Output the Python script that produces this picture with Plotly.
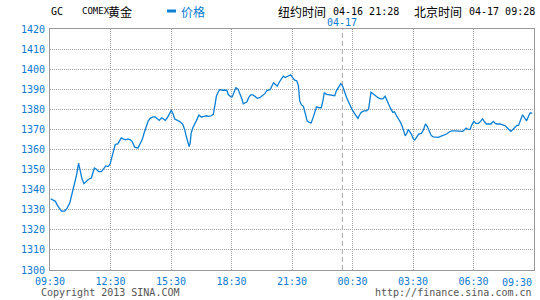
import plotly.graph_objects as go

# ---- data (minutes after 09:30 Beijing time, price) ----
minutes = [2, 12, 16, 22, 29, 34, 44, 51, 59, 65, 72, 79, 85, 90, 95, 101, 108, 115, 123, 127,
           132, 138, 145, 153, 160, 166, 173, 179, 182, 188, 194, 202, 208, 212, 219, 225, 232, 239, 245, 252,
           262, 269, 275, 280, 285, 292, 298, 306, 313, 319, 325, 332, 338, 343, 349, 356, 361, 366, 371, 379,
           387, 395, 401, 405, 411, 414, 417, 420, 425, 430, 436, 443, 450, 458, 465, 472, 480, 486, 490, 495,
           500, 505, 513, 520, 526, 530, 538, 542, 547, 553, 559, 565, 571, 575, 580, 586, 591, 597, 604, 611,
           617, 624, 631, 639, 646, 655, 660, 665, 670, 676, 682, 688, 694, 700, 706, 710, 716, 722, 728, 734,
           739, 743, 748, 754, 760, 765, 771, 777, 782, 787, 793, 800, 807, 812, 816, 823, 832, 842, 847, 852,
           858, 865, 870, 875, 881, 887, 893, 898, 904, 910, 916, 921, 926, 934, 942, 948, 952, 955, 961, 968,
           976, 983, 990, 997, 1002, 1008, 1014, 1020, 1025, 1031, 1037, 1043, 1048, 1053, 1057, 1062, 1066, 1075, 1081, 1085,
           1091, 1097, 1105, 1111, 1117, 1123, 1128, 1134, 1140, 1148, 1156, 1164, 1172, 1180, 1188, 1196, 1204, 1212, 1220, 1228,
           1234, 1238, 1244, 1250, 1255, 1261, 1267, 1275, 1281, 1287, 1293, 1299, 1305, 1312, 1319, 1325, 1331, 1339, 1347, 1355,
           1361, 1367, 1371, 1377, 1383, 1389, 1394, 1400, 1406, 1412, 1418, 1424, 1429, 1435]
price = [1335.5, 1334.8, 1334.2, 1332.2, 1330.3, 1329.3, 1329.3, 1330.8, 1333.5, 1337.2, 1341.8, 1347.2, 1353.2, 1349.8, 1345.5, 1343.0, 1344.2, 1345.2, 1345.8, 1348.2,
         1350.8, 1350.2, 1349.0, 1349.0, 1350.5, 1351.8, 1351.5, 1352.8, 1354.8, 1359.2, 1362.5, 1362.8, 1364.8, 1365.8, 1365.2, 1364.8, 1365.3, 1364.8, 1363.8, 1361.2,
         1360.8, 1362.8, 1365.2, 1368.2, 1371.2, 1374.2, 1375.5, 1376.2, 1376.2, 1375.2, 1374.5, 1375.8, 1375.2, 1374.5, 1375.8, 1377.8, 1379.5, 1377.8, 1375.2, 1374.5,
         1373.8, 1372.5, 1369.8, 1366.8, 1363.5, 1361.5, 1363.2, 1368.2, 1370.8, 1372.2, 1374.5, 1377.2, 1376.2, 1376.5, 1376.8, 1376.5, 1376.8, 1377.5, 1382.5, 1386.5,
         1388.5, 1389.8, 1389.5, 1389.5, 1389.5, 1387.5, 1386.2, 1386.2, 1388.2, 1390.8, 1390.2, 1387.8, 1385.2, 1382.8, 1383.2, 1383.8, 1385.8, 1387.2, 1387.2, 1386.5,
         1385.5, 1385.8, 1386.8, 1387.8, 1389.5, 1389.8, 1391.5, 1393.2, 1392.5, 1391.5, 1393.5, 1395.2, 1396.5, 1395.8, 1396.2, 1396.5, 1397.2, 1395.8, 1394.5, 1394.2,
         1391.8, 1384.2, 1382.2, 1381.5, 1377.5, 1374.2, 1373.5, 1373.2, 1375.5, 1378.2, 1381.2, 1380.8, 1380.8, 1384.2, 1388.2, 1387.5, 1387.2, 1387.2, 1386.8, 1389.2,
         1390.8, 1392.8, 1391.8, 1389.2, 1386.5, 1384.2, 1381.8, 1380.2, 1378.5, 1376.8, 1375.5, 1377.2, 1378.5, 1379.2, 1379.2, 1380.2, 1385.8, 1388.5, 1387.8, 1386.8,
         1385.8, 1385.2, 1385.2, 1386.5, 1384.5, 1382.2, 1380.2, 1378.5, 1378.8, 1376.8, 1375.2, 1373.5, 1371.5, 1369.2, 1366.8, 1368.2, 1370.0, 1367.7, 1365.3, 1364.7,
         1366.3, 1367.7, 1368.0, 1369.7, 1372.7, 1371.3, 1369.3, 1367.0, 1366.3, 1366.3, 1366.0, 1366.7, 1367.2, 1367.7, 1368.7, 1369.3, 1369.3, 1369.3, 1369.0, 1369.0,
         1370.0, 1370.7, 1370.0, 1370.0, 1372.3, 1374.0, 1373.0, 1373.0, 1374.0, 1375.3, 1373.7, 1372.7, 1372.7, 1372.7, 1374.0, 1373.0, 1372.7, 1372.7, 1372.3, 1371.7,
         1370.7, 1369.7, 1369.0, 1370.0, 1371.0, 1372.0, 1372.0, 1374.7, 1377.3, 1375.7, 1374.3, 1376.7, 1378.3, 1378.0]

x_tick_minutes = [0, 180, 360, 540, 720, 900, 1080, 1260, 1440]
x_tick_labels = ["09:30", "12:30", "15:30", "18:30", "21:30", "00:30", "03:30", "06:30", "09:30"]
y_ticks = [1300, 1310, 1320, 1330, 1340, 1350, 1360, 1370, 1380, 1390, 1400, 1410, 1420]
date_change_minute = 870
date_change_label = "04-17"

symbol = "GC"
name_latin = "COMEX"
name_cjk = "黄金"
series_name = "价格"
ny_label, ny_time = "纽约时间", "04-16 21:28"
bj_label, bj_time = "北京时间", "04-17 09:28"
copyright_text = "Copyright 2013 SINA.COM"
url_text = "http://finance.sina.com.cn"

# ---- layout geometry / styles ----
W, H = 540, 300
L, R, T, B = 50, 6, 29, 30
BLUE = "#0a7ad2"
LINE = "#0a7fd4"
GRID = "#a0a0a0"
MONO = "DejaVu Sans Mono"
CJK = "Noto Sans CJK SC"


def px(x):
    return (x - L) / (W - L - R)


def py(y):
    return (H - B - y) / (H - T - B)


fig = go.Figure()
fig.add_trace(go.Scatter(x=minutes, y=price, mode="lines",
                         line=dict(color=LINE, width=1.3), name=series_name,
                         showlegend=False, hoverinfo="skip"))

fig.update_layout(
    width=W, height=H, margin=dict(l=L, r=R, t=T, b=B),
    paper_bgcolor="white", plot_bgcolor="white",
    xaxis=dict(range=[0, 1440], tickvals=x_tick_minutes[:-1], ticktext=x_tick_labels[:-1],
               showgrid=True, gridcolor=GRID, griddash="1px,1px", gridwidth=1,
               showline=True, linecolor="#999999", linewidth=1, mirror=True,
               ticks="", zeroline=False, ticklabelstandoff=2,
               tickfont=dict(family=MONO, size=10, color=BLUE)),
    yaxis=dict(range=[1300, 1420], tickvals=y_ticks, ticktext=[str(v) for v in y_ticks],
               showgrid=True, gridcolor=GRID, griddash="1px,1px", gridwidth=1,
               showline=True, linecolor="#999999", linewidth=1, mirror=True,
               ticks="", zeroline=False, ticklabelstandoff=2,
               tickfont=dict(family=MONO, size=10, color=BLUE)),
    showlegend=False,
)

# date-change dashed line
fig.add_shape(type="line", xref="x", yref="paper", x0=date_change_minute, x1=date_change_minute,
              y0=0, y1=1, line=dict(color="#aaaaaa", width=1, dash="5px,3px"), layer="below")

# legend-like swatch
fig.add_shape(type="line", xref="paper", yref="paper", x0=px(167), x1=px(176), y0=py(11), y1=py(11),
              line=dict(color=LINE, width=3))

ann = []


def text(x, y, s, family, size, color, anchor="left"):
    ann.append(dict(xref="paper", yref="paper", x=px(x), y=py(y), text=s, showarrow=False,
                    xanchor=anchor, yanchor="middle",
                    font=dict(family=family, size=size, color=color)))


text(49, 11, symbol, MONO, 10, "#000000")
text(80, 11, name_latin, MONO, 9, "#000000")
text(106, 11, name_cjk, CJK, 12, "#000000")
text(179, 11, series_name, CJK, 12, BLUE)
text(276, 11, ny_label, CJK, 12, "#000000")
text(331, 11, ny_time, MONO, 10, "#000000")
text(412, 11, bj_label, CJK, 12, "#000000")
text(467, 11, bj_time, MONO, 10, "#000000")
ann.append(dict(xref="x", yref="paper", x=date_change_minute, y=py(22), text=date_change_label,
                showarrow=False, xanchor="center", yanchor="middle",
                font=dict(family=MONO, size=10, color=BLUE)))
ann.append(dict(xref="x", yref="paper", x=x_tick_minutes[-1], y=py(282), text=x_tick_labels[-1],
                showarrow=False, xanchor="right", yanchor="middle",
                font=dict(family=MONO, size=10, color=BLUE)))
text(39, 292, copyright_text, MONO, 10, "#555555")
text(534, 292, url_text, MONO, 10, "#555555", anchor="right")

fig.update_layout(annotations=ann)
fig.write_html("out.html")
